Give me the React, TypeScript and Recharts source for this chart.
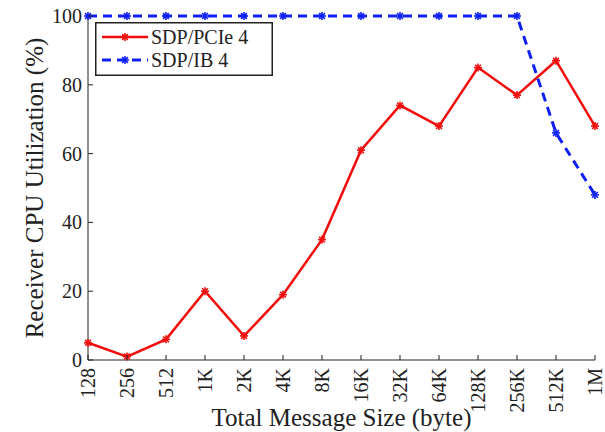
import React from 'react';
import { LineChart, Line, XAxis, YAxis } from 'recharts';

const sizes = ['128', '256', '512', '1K', '2K', '4K', '8K', '16K', '32K', '64K', '128K', '256K', '512K', '1M'];
const pcie = [5, 1, 6, 20, 7, 19, 35, 61, 74, 68, 85, 77, 87, 68];
const ib = [100, 100, 100, 100, 100, 100, 100, 100, 100, 100, 100, 100, 66, 48];
const yTicks = [0, 20, 40, 60, 80, 100];

const series = [
  { key: 'pcie', name: 'SDP/PCIe 4', color: '#f20d0d', dash: undefined as string | undefined, width: 2.5 },
  { key: 'ib', name: 'SDP/IB 4', color: '#1020f5', dash: '9 6', width: 3 },
];

const data = sizes.map((s, i) => ({ size: s, pcie: pcie[i], ib: ib[i] }));

const FONT = '"Liberation Serif", "DejaVu Serif", serif';
const INK = '#222';
const txt = (size: number) => ({ fontFamily: FONT, fontSize: size, fill: INK });

const Star = ({ cx, cy, color }: any) => {
  if (cx == null || cy == null) return null;
  const r = 4;
  const d = 2.9;
  return (
    <g stroke={color} strokeWidth={1.6}>
      <line x1={cx - r} y1={cy} x2={cx + r} y2={cy} />
      <line x1={cx} y1={cy - r} x2={cx} y2={cy + r} />
      <line x1={cx - d} y1={cy - d} x2={cx + d} y2={cy + d} />
      <line x1={cx - d} y1={cy + d} x2={cx + d} y2={cy - d} />
    </g>
  );
};

const BottomTick = ({ x, y, payload }: any) => (
  <g>
    <line x1={x} y1={y} x2={x} y2={y - 5} stroke={INK} />
    <text x={x} y={y + 8} transform={`rotate(-90 ${x} ${y + 8})`} textAnchor="end" dy="0.35em" style={txt(20)}>
      {payload.value}
    </text>
  </g>
);

const LeftTick = ({ x, y, payload }: any) => (
  <g>
    <line x1={x} y1={y} x2={x + 5} y2={y} stroke={INK} />
    <text x={x - 6} y={y} dy="0.35em" textAnchor="end" style={txt(20)}>
      {payload.value}
    </text>
  </g>
);

const TopTick = ({ x, y }: any) => <line x1={x} y1={y} x2={x} y2={y + 5} stroke={INK} />;
const RightTick = ({ x, y }: any) => <line x1={x} y1={y} x2={x - 5} y2={y} stroke={INK} />;

// legend box drawn inside the svg, top-left of the plot
const LegendBox = () => (
  <g transform="translate(95 22)">
    <rect x={0.75} y={0.75} width={176.5} height={52.5} fill="#fff" stroke={INK} strokeWidth={1.5} />
    {series.map((s, i) => {
      const cy = 15 + i * 23;
      return (
        <g key={s.key}>
          <line x1={7} y1={cy} x2={53} y2={cy} stroke={s.color} strokeWidth={s.width} strokeDasharray={s.dash} />
          <Star cx={30} cy={cy} color={s.color} />
          <text x={56} y={cy} dy="0.35em" style={txt(20)}>
            {s.name}
          </text>
        </g>
      );
    })}
  </g>
);

const App = () => {
  return (
    <div style={{ position: 'absolute', left: 0, top: 0, background: '#fff' }}>
      <LineChart width={605} height={432} data={data} margin={{ top: 16, right: 10, left: 0, bottom: 0 }}>
        <XAxis
          dataKey="size"
          type="category"
          height={72}
          tickLine={false}
          tickSize={0}
          tickMargin={0}
          interval={0}
          axisLine={{ stroke: INK }}
          tick={<BottomTick />}
          label={{
            content: (p: any) => {
              const vb = p.viewBox;
              return (
                <text x={vb.x + vb.width / 2} y={vb.y + vb.height - 6} textAnchor="middle" style={txt(25)}>
                  Total Message Size (byte)
                </text>
              );
            },
          }}
        />
        <XAxis
          xAxisId="top"
          dataKey="size"
          type="category"
          orientation="top"
          height={0}
          tickLine={false}
          tickSize={0}
          tickMargin={0}
          interval={0}
          axisLine={{ stroke: INK }}
          tick={<TopTick />}
        />
        <YAxis
          type="number"
          domain={[0, 100]}
          ticks={yTicks}
          width={88}
          tickLine={false}
          tickSize={0}
          tickMargin={0}
          axisLine={{ stroke: INK }}
          tick={<LeftTick />}
          label={{
            content: (p: any) => {
              const vb = p.viewBox;
              const x = vb.x + 34;
              const y = vb.y + vb.height / 2;
              return (
                <text x={x} y={y} dy="0.35em" transform={`rotate(-90 ${x} ${y})`} textAnchor="middle" style={txt(25)}>
                  Receiver CPU Utilization (%)
                </text>
              );
            },
          }}
        />
        <YAxis
          yAxisId="right"
          orientation="right"
          type="number"
          domain={[0, 100]}
          ticks={yTicks}
          width={0}
          tickLine={false}
          tickSize={0}
          tickMargin={0}
          axisLine={{ stroke: INK }}
          tick={<RightTick />}
        />
        {series.map((s) => (
          <Line
            key={s.key}
            dataKey={s.key}
            name={s.name}
            type="linear"
            stroke={s.color}
            strokeWidth={s.width}
            strokeDasharray={s.dash}
            dot={(p: any) => <Star key={`${s.key}-${p.index}`} cx={p.cx} cy={p.cy} color={s.color} />}
            activeDot={false}
            isAnimationActive={false}
          />
        ))}
        <LegendBox />
      </LineChart>
    </div>
  );
};

export default App;
